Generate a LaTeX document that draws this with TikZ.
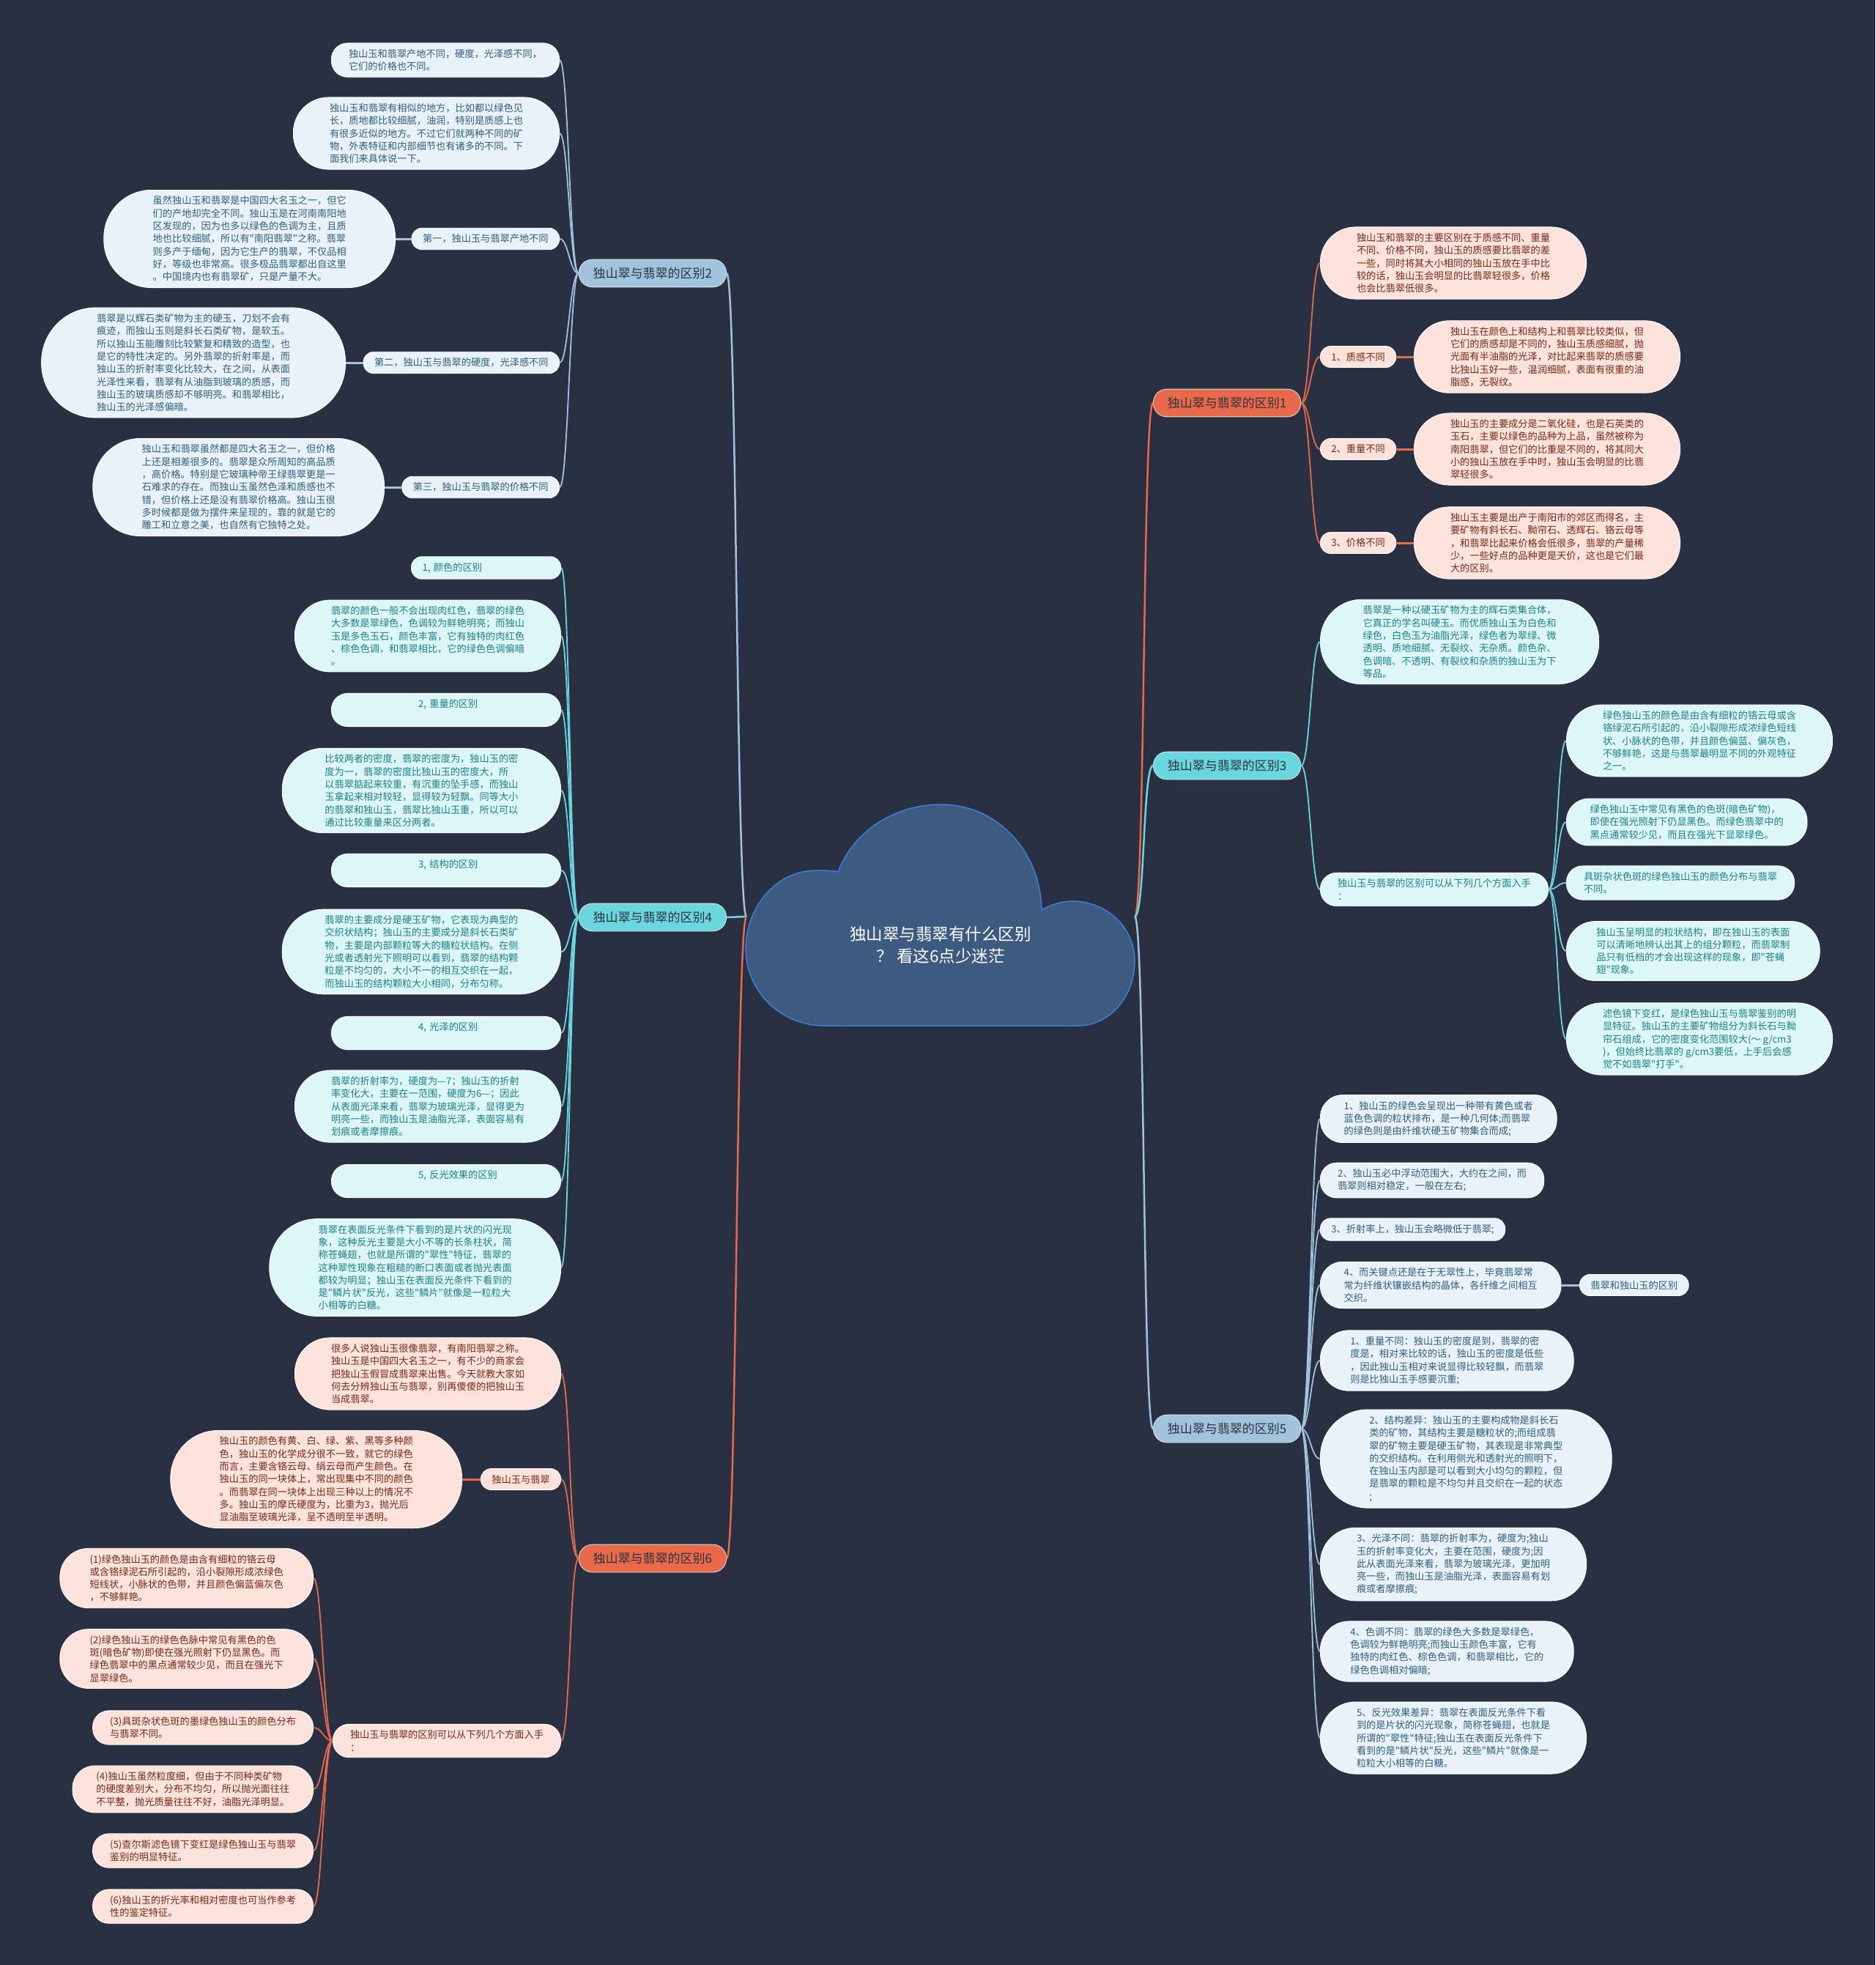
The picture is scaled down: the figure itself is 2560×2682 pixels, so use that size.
\documentclass[tikz,border=0pt]{standalone}
\usepackage{fontspec}
\newfontfamily\cjkfont{Noto Sans CJK SC}
\usepackage{tikz}
\usetikzlibrary{positioning}
\usepackage{xcolor}

\definecolor{bgnavy}{HTML}{283041}
\definecolor{cloudfill}{HTML}{3D5A80}
\definecolor{cloudedge}{HTML}{3C7FD9}
\definecolor{coral}{HTML}{E9694B}
\definecolor{aqua}{HTML}{6AD6DE}
\definecolor{steel}{HTML}{A2C3DC}
\definecolor{peachleaf}{HTML}{FDE3DB}
\definecolor{aqualeaf}{HTML}{DDF6F8}
\definecolor{steelleaf}{HTML}{EAF2F9}
\definecolor{rusttext}{HTML}{7A2818}
\definecolor{tealtext}{HTML}{1C8189}
\definecolor{steeltext}{HTML}{2E5E80}
\definecolor{branchtext}{HTML}{2B3340}

\newcommand{\leaffont}{\cjkfont\fontsize{13.2pt}{17.3pt}\selectfont}
\newcommand{\branchfont}{\cjkfont\fontsize{17pt}{20pt}\selectfont}
\newcommand{\titlefont}{\cjkfont\fontsize{22.5pt}{30pt}\selectfont}

\tikzset{
    leaf/.style={rectangle, draw=white, line width=0.8pt, align=left,
        inner ysep=8.4pt, font=\leaffont},
    leafR/.style={leaf, fill=peachleaf, text=rusttext},
    leafC/.style={leaf, fill=aqualeaf, text=tealtext},
    leafB/.style={leaf, fill=steelleaf, text=steeltext},
    lines1/.style={rounded corners=14pt, inner xsep=15pt},
    lines2/.style={rounded corners=22pt, inner xsep=23.6pt},
    lines3/.style={rounded corners=30.5pt, inner xsep=32.3pt},
    lines4/.style={rounded corners=39pt, inner xsep=40.9pt},
    lines5/.style={rounded corners=48pt, inner xsep=49.6pt},
    lines6/.style={rounded corners=56.5pt, inner xsep=58.2pt},
    lines7/.style={rounded corners=65pt, inner xsep=66.9pt},
    lines8/.style={rounded corners=74pt, inner xsep=75.5pt},
    branch/.style={rectangle, rounded corners=18.5pt, draw=white!80!gray, line width=0.8pt,
        inner xsep=19.5pt, inner ysep=11pt, font=\branchfont, text=branchtext},
    mainR/.style={draw=coral, line width=2.5pt},
    mainC/.style={draw=aqua, line width=2.5pt},
    mainB/.style={draw=steel, line width=2.5pt},
    lnR/.style={draw=coral, line width=1.8pt},
    lnC/.style={draw=aqua, line width=1.8pt},
    lnB/.style={draw=steel, line width=1.8pt},
}

\begin{document}
\begin{tikzpicture}[x=1pt, y=-1pt]
    % Background
    \fill[bgnavy] (0,0) rectangle (2560,2682);
    \useasboundingbox (0,0) rectangle (2560,2682);

    % Central cloud
    \filldraw[fill=cloudfill, draw=cloudedge, line width=1.5pt]
        (1125,1400) -- (1472,1400)
        .. controls (1515,1400) and (1549,1360) .. (1549,1312)
        .. controls (1549,1265) and (1510,1230) .. (1464,1230)
        .. controls (1448,1230) and (1434,1235) .. (1422,1242)
        .. controls (1420,1160) and (1360,1098) .. (1285,1098)
        .. controls (1220,1098) and (1165,1135) .. (1144,1190)
        .. controls (1134,1188) and (1124,1188) .. (1114,1188)
        .. controls (1058,1188) and (1018,1240) .. (1018,1295)
        .. controls (1018,1352) and (1065,1400) .. (1125,1400) -- cycle;
    \node[text=white, font=\titlefont, align=center] (title) at (1284,1290)
        {独山翠与翡翠有什么区别\\？ 看这6点少迷茫};
    \coordinate (rootL) at (1019,1251);
    \coordinate (rootR) at (1549,1251);

    % Main branches
    \node[branch, fill=steel, anchor=east] (b2) at (992,373) {独山翠与翡翠的区别2};
    \node[branch, fill=aqua, anchor=east] (b4) at (992,1252) {独山翠与翡翠的区别4};
    \node[branch, fill=coral, anchor=east] (b6) at (992,2127) {独山翠与翡翠的区别6};
    \node[branch, fill=coral, anchor=west] (b1) at (1574,550) {独山翠与翡翠的区别1};
    \node[branch, fill=aqua, anchor=west] (b3) at (1574,1045) {独山翠与翡翠的区别3};
    \node[branch, fill=steel, anchor=west] (b5) at (1574,1950) {独山翠与翡翠的区别5};

    % Branch 2
    \node[leafB, lines2, anchor=east] (b2a) at (764,82) {独山玉和翡翠产地不同，硬度，光泽感不同，\\它们的价格也不同。};
    \node[leafB, lines5, anchor=east] (b2b) at (764,182) {独山玉和翡翠有相似的地方，比如都以绿色见\\长，质地都比较细腻，油润，特别是质感上也\\有很多近似的地方。不过它们就两种不同的矿\\物，外表特征和内部细节也有诸多的不同。下\\面我们来具体说一下。};
    \node[leafB, lines1, anchor=east] (b2c) at (764,326) {第一，独山玉与翡翠产地不同};
    \node[leafB, lines7, anchor=east] (b2c1) at (540,326) {虽然独山玉和翡翠是中国四大名玉之一，但它\\们的产地却完全不同。独山玉是在河南南阳地\\区发现的，因为也多以绿色的色调为主，且质\\地也比较细腻，所以有"南阳翡翠"之称。翡翠\\则多产于缅甸，因为它生产的翡翠，不仅品相\\好，等级也非常高。很多极品翡翠都出自这里\\。中国境内也有翡翠矿，只是产量不大。};
    \node[leafB, lines1, anchor=east] (b2d) at (764,495) {第二，独山玉与翡翠的硬度，光泽感不同};
    \node[leafB, lines8, anchor=east] (b2d1) at (472,495) {翡翠是以辉石类矿物为主的硬玉，刀划不会有\\痕迹，而独山玉则是斜长石类矿物，是软玉。\\所以独山玉能雕刻比较繁复和精致的造型，也\\是它的特性决定的。另外翡翠的折射率是，而\\独山玉的折射率变化比较大，在之间，从表面\\光泽性来看，翡翠有从油脂到玻璃的质感，而\\独山玉的玻璃质感却不够明亮。和翡翠相比，\\独山玉的光泽感偏暗。};
    \node[leafB, lines1, anchor=east] (b2e) at (764,665) {第三，独山玉与翡翠的价格不同};
    \node[leafB, lines7, anchor=east] (b2e1) at (525,665) {独山玉和翡翠虽然都是四大名玉之一，但价格\\上还是相差很多的。翡翠是众所周知的高品质\\，高价格。特别是它玻璃种帝王绿翡翠更是一\\石难求的存在。而独山玉虽然色泽和质感也不\\错，但价格上还是没有翡翠价格高。独山玉很\\多时候都是做为摆件来呈现的，靠的就是它的\\雕工和立意之美，也自然有它独特之处。};

    % Branch 4
    \node[leafC, lines1, anchor=east, text width=174pt] (b4a) at (766,775) {1, 颜色的区别};
    \node[leafC, lines5, anchor=east] (b4b) at (766,868) {翡翠的颜色一般不会出现肉红色，翡翠的绿色\\大多数是翠绿色，色调较为鲜艳明亮；而独山\\玉是多色玉石，颜色丰富，它有独特的肉红色\\、棕色色调，和翡翠相比，它的绿色色调偏暗\\。};
    \node[leafC, lines2, anchor=east, text width=266pt] (b4c) at (766,969) {\hspace*{95pt}2, 重量的区别\\\mbox{}};
    \node[leafC, lines6, anchor=east] (b4d) at (766,1079) {比较两者的密度，翡翠的密度为，独山玉的密\\度为一，翡翠的密度比独山玉的密度大，所\\以翡翠掂起来较重，有沉重的坠手感，而独山\\玉拿起来相对较轻，显得较为轻飘。同等大小\\的翡翠和独山玉，翡翠比独山玉重，所以可以\\通过比较重量来区分两者。};
    \node[leafC, lines2, anchor=east, text width=266pt] (b4e) at (766,1188) {\hspace*{95pt}3, 结构的区别\\\mbox{}};
    \node[leafC, lines6, anchor=east] (b4f) at (766,1299) {翡翠的主要成分是硬玉矿物，它表现为典型的\\交织状结构；独山玉的主要成分是斜长石类矿\\物，主要是内部颗粒等大的糖粒状结构。在侧\\光或者透射光下照明可以看到，翡翠的结构颗\\粒是不均匀的，大小不一的相互交织在一起，\\而独山玉的结构颗粒大小相同，分布匀称。};
    \node[leafC, lines2, anchor=east, text width=266pt] (b4g) at (766,1410) {\hspace*{95pt}4, 光泽的区别\\\mbox{}};
    \node[leafC, lines5, anchor=east] (b4h) at (766,1510) {翡翠的折射率为，硬度为—7；独山玉的折射\\率变化大，主要在一范围，硬度为6—；因此\\从表面光泽来看，翡翠为玻璃光泽，显得更为\\明亮一些，而独山玉是油脂光泽，表面容易有\\划痕或者摩擦痕。};
    \node[leafC, lines2, anchor=east, text width=266pt] (b4i) at (766,1612) {\hspace*{95pt}5, 反光效果的区别\\\mbox{}};
    \node[leafC, lines7, anchor=east] (b4j) at (766,1730) {翡翠在表面反光条件下看到的是片状的闪光现\\象，这种反光主要是大小不等的长条柱状，简\\称苍蝇翅，也就是所谓的"翠性"特征，翡翠的\\这种翠性现象在粗糙的断口表面或者抛光表面\\都较为明显；独山玉在表面反光条件下看到的\\是"鳞片状"反光，这些"鳞片"就像是一粒粒大\\小相等的白糖。};

    % Branch 6
    \node[leafR, lines5, anchor=east] (b6a) at (766,1875) {很多人说独山玉很像翡翠，有南阳翡翠之称。\\独山玉是中国四大名玉之一，有不少的商家会\\把独山玉假冒成翡翠来出售。今天就教大家如\\何去分辨独山玉与翡翠，别再傻傻的把独山玉\\当成翡翠。};
    \node[leafR, lines1, anchor=east] (b6b) at (766,2019) {独山玉与翡翠};
    \node[leafR, lines7, anchor=east] (b6b1) at (631,2019) {独山玉的颜色有黄、白、绿、紫、黑等多种颜\\色，独山玉的化学成分很不一致，就它的绿色\\而言，主要含铬云母、绢云母而产生颜色。在\\独山玉的同一块体上，常出现集中不同的颜色\\。而翡翠在同一块体上出现三种以上的情况不\\多。独山玉的摩氏硬度为，比重为3，抛光后\\显油脂至玻璃光泽，呈不透明至半透明。};
    \node[leafR, lines2, anchor=east] (b6c) at (766,2376) {独山玉与翡翠的区别可以从下列几个方面入手\\：};
    \node[leafR, lines4, anchor=east] (b6c1) at (428,2154) {(1)绿色独山玉的颜色是由含有细粒的铬云母\\或含铬绿泥石所引起的，沿小裂隙形成浓绿色\\短线状，小脉状的色带，并且颜色偏蓝偏灰色\\，不够鲜艳。};
    \node[leafR, lines4, anchor=east] (b6c2) at (428,2264) {(2)绿色独山玉的绿色色脉中常见有黑色的色\\斑(暗色矿物)即使在强光照射下仍显黑色。而\\绿色翡翠中的黑点通常较少见，而且在强光下\\显翠绿色。};
    \node[leafR, lines2, anchor=east] (b6c3) at (428,2358) {(3)具斑杂状色斑的墨绿色独山玉的颜色分布\\与翡翠不同。};
    \node[leafR, lines3, anchor=east] (b6c4) at (428,2442) {(4)独山玉虽然粒度细，但由于不同种类矿物\\的硬度差别大，分布不均匀，所以抛光面往往\\不平整，抛光质量往往不好，油脂光泽明显。};
    \node[leafR, lines2, anchor=east] (b6c5) at (428,2526) {(5)查尔斯滤色镜下变红是绿色独山玉与翡翠\\鉴别的明显特征。};
    \node[leafR, lines2, anchor=east] (b6c6) at (428,2602) {(6)独山玉的折光率和相对密度也可当作参考\\性的鉴定特征。};

    % Branch 1
    \node[leafR, lines5, anchor=west] (b1a) at (1802,359) {独山玉和翡翠的主要区别在于质感不同、重量\\不同、价格不同，独山玉的质感要比翡翠的差\\一些，同时将其大小相同的独山玉放在手中比\\较的话，独山玉会明显的比翡翠轻很多，价格\\也会比翡翠低很多。};
    \node[leafR, lines1, anchor=west] (b1b) at (1802,487) {1、质感不同};
    \node[leafR, lines5, anchor=west] (b1b1) at (1930,487) {独山玉在颜色上和结构上和翡翠比较类似，但\\它们的质感却是不同的，独山玉质感细腻，抛\\光面有半油脂的光泽，对比起来翡翠的质感要\\比独山玉好一些，温润细腻，表面有很重的油\\脂感，无裂纹。};
    \node[leafR, lines1, anchor=west] (b1c) at (1802,613) {2、重量不同};
    \node[leafR, lines5, anchor=west] (b1c1) at (1930,613) {独山玉的主要成分是二氧化硅，也是石英类的\\玉石，主要以绿色的品种为上品，虽然被称为\\南阳翡翠，但它们的比重是不同的，将其同大\\小的独山玉放在手中时，独山玉会明显的比翡\\翠轻很多。};
    \node[leafR, lines1, anchor=west] (b1d) at (1802,741) {3、价格不同};
    \node[leafR, lines5, anchor=west] (b1d1) at (1930,741) {独山玉主要是出产于南阳市的郊区而得名，主\\要矿物有斜长石、黝帘石、透辉石、铬云母等\\，和翡翠比起来价格会低很多，翡翠的产量稀\\少，一些好点的品种更是天价，这也是它们最\\大的区别。};

    % Branch 3
    \node[leafC, lines6, anchor=west] (b3a) at (1802,876) {翡翠是一种以硬玉矿物为主的辉石类集合体，\\它真正的学名叫硬玉。而优质独山玉为白色和\\绿色，白色玉为油脂光泽，绿色者为翠绿、微\\透明、质地细腻、无裂纹、无杂质。颜色杂、\\色调暗、不透明、有裂纹和杂质的独山玉为下\\等品。};
    \node[leafC, lines2, anchor=west] (b3b) at (1802,1214) {独山玉与翡翠的区别可以从下列几个方面入手\\：};
    \node[leafC, lines5, anchor=west] (b3b1) at (2138,1011) {绿色独山玉的颜色是由含有细粒的铬云母或含\\铬绿泥石所引起的，沿小裂隙形成浓绿色短线\\状、小脉状的色带，并且颜色偏蓝、偏灰色，\\不够鲜艳，这是与翡翠最明显不同的外观特征\\之一。};
    \node[leafC, lines3, anchor=west] (b3b2) at (2138,1122) {绿色独山玉中常见有黑色的色斑(暗色矿物)，\\即使在强光照射下仍显黑色。而绿色翡翠中的\\黑点通常较少见，而且在强光下显翠绿色。};
    \node[leafC, lines2, anchor=west] (b3b3) at (2138,1205) {具斑杂状色斑的绿色独山玉的颜色分布与翡翠\\不同。};
    \node[leafC, lines4, anchor=west] (b3b4) at (2138,1298) {独山玉呈明显的粒状结构，即在独山玉的表面\\可以清晰地辨认出其上的组分颗粒，而翡翠制\\品只有低档的才会出现这样的现象，即"苍蝇\\翅"现象。};
    \node[leafC, lines5, anchor=west] (b3b5) at (2138,1418) {滤色镜下变红，是绿色独山玉与翡翠鉴别的明\\显特征。独山玉的主要矿物组分为斜长石与黝\\帘石组成，它的密度变化范围较大(～ g/cm3\\)，但始终比翡翠的 g/cm3要低，上手后会感\\觉不如翡翠"打手"。};

    % Branch 5
    \node[leafB, lines3, anchor=west] (b5a) at (1802,1527) {1、独山玉的绿色会呈现出一种带有黄色或者\\蓝色色调的粒状排布，是一种几何体;而翡翠\\的绿色则是由纤维状硬玉矿物集合而成;};
    \node[leafB, lines2, anchor=west] (b5b) at (1802,1611) {2、独山玉必中浮动范围大，大约在之间，而\\翡翠则相对稳定，一般在左右;};
    \node[leafB, lines1, anchor=west] (b5c) at (1802,1678) {3、折射率上，独山玉会略微低于翡翠;};
    \node[leafB, lines3, anchor=west] (b5d) at (1802,1754) {4、而关键点还是在于无翠性上，毕竟翡翠常\\常为纤维状镶嵌结构的晶体，各纤维之间相互\\交织。};
    \node[leafB, lines1, anchor=west] (b5d1) at (2156,1754) {翡翠和独山玉的区别};
    \node[leafB, lines4, anchor=west] (b5e) at (1802,1857) {1、重量不同：独山玉的密度是到，翡翠的密\\度是，相对来比较的话，独山玉的密度是低些\\，因此独山玉相对来说显得比较轻飘，而翡翠\\则是比独山玉手感要沉重;};
    \node[leafB, lines7, anchor=west] (b5f) at (1802,1991) {2、结构差异：独山玉的主要构成物是斜长石\\类的矿物，其结构主要是糖粒状的;而组成翡\\翠的矿物主要是硬玉矿物，其表现是非常典型\\的交织结构。在利用侧光和透射光的照明下，\\在独山玉内部是可以看到大小均匀的颗粒，但\\是翡翠的颗粒是不均匀并且交织在一起的状态\\;};
    \node[leafB, lines5, anchor=west] (b5g) at (1802,2135) {3、光泽不同：翡翠的折射率为，硬度为;独山\\玉的折射率变化大，主要在范围，硬度为;因\\此从表面光泽来看，翡翠为玻璃光泽，更加明\\亮一些，而独山玉是油脂光泽，表面容易有划\\痕或者摩擦痕;};
    \node[leafB, lines4, anchor=west] (b5h) at (1802,2254) {4、色调不同：翡翠的绿色大多数是翠绿色，\\色调较为鲜艳明亮;而独山玉颜色丰富，它有\\独特的肉红色、棕色色调，和翡翠相比，它的\\绿色色调相对偏暗;};
    \node[leafB, lines5, anchor=west] (b5i) at (1802,2372) {5、反光效果差异：翡翠在表面反光条件下看\\到的是片状的闪光现象，简称苍蝇翅，也就是\\所谓的"翠性"特征;独山玉在表面反光条件下\\看到的是"鳞片状"反光，这些"鳞片"就像是一\\粒粒大小相等的白糖。};

    % Root connectors
    \draw[mainB] (rootL) .. controls +(-14,0) and +(14,0) .. (b2.east);
    \draw[mainC] (rootL) .. controls +(-14,0) and +(14,0) .. (b4.east);
    \draw[mainR] (rootL) .. controls +(-14,0) and +(14,0) .. (b6.east);
    \draw[mainR] (rootR) .. controls +(14,0) and +(-14,0) .. (b1.west);
    \draw[mainC] (rootR) .. controls +(14,0) and +(-14,0) .. (b3.west);
    \draw[mainB] (rootR) .. controls +(14,0) and +(-14,0) .. (b5.west);

    % Branch 2 connectors
    \draw[lnB] (b2.west) .. controls +(-12,0) and +(12,0) .. (b2a.east);
    \draw[lnB] (b2.west) .. controls +(-12,0) and +(12,0) .. (b2b.east);
    \draw[lnB] (b2.west) .. controls +(-12,0) and +(12,0) .. (b2c.east);
    \draw[lnB] (b2.west) .. controls +(-12,0) and +(12,0) .. (b2d.east);
    \draw[lnB] (b2.west) .. controls +(-12,0) and +(12,0) .. (b2e.east);
    \draw[lnB, line width=3pt] (b2c.west) -- (b2c1.east);
    \draw[lnB, line width=3pt] (b2d.west) -- (b2d1.east);
    \draw[lnB, line width=3pt] (b2e.west) -- (b2e1.east);

    % Branch 4 connectors
    \draw[lnC] (b4.west) .. controls +(-12,0) and +(12,0) .. (b4a.east);
    \draw[lnC] (b4.west) .. controls +(-12,0) and +(12,0) .. (b4b.east);
    \draw[lnC] (b4.west) .. controls +(-12,0) and +(12,0) .. (b4c.east);
    \draw[lnC] (b4.west) .. controls +(-12,0) and +(12,0) .. (b4d.east);
    \draw[lnC] (b4.west) .. controls +(-12,0) and +(12,0) .. (b4e.east);
    \draw[lnC] (b4.west) .. controls +(-12,0) and +(12,0) .. (b4f.east);
    \draw[lnC] (b4.west) .. controls +(-12,0) and +(12,0) .. (b4g.east);
    \draw[lnC] (b4.west) .. controls +(-12,0) and +(12,0) .. (b4h.east);
    \draw[lnC] (b4.west) .. controls +(-12,0) and +(12,0) .. (b4i.east);
    \draw[lnC] (b4.west) .. controls +(-12,0) and +(12,0) .. (b4j.east);

    % Branch 6 connectors
    \draw[lnR] (b6.west) .. controls +(-12,0) and +(12,0) .. (b6a.east);
    \draw[lnR] (b6.west) .. controls +(-12,0) and +(12,0) .. (b6b.east);
    \draw[lnR] (b6.west) .. controls +(-12,0) and +(12,0) .. (b6c.east);
    \draw[lnR, line width=3pt] (b6b.west) -- (b6b1.east);
    \draw[lnR] (b6c.west) .. controls +(-12,0) and +(12,0) .. (b6c1.east);
    \draw[lnR] (b6c.west) .. controls +(-12,0) and +(12,0) .. (b6c2.east);
    \draw[lnR] (b6c.west) .. controls +(-12,0) and +(12,0) .. (b6c3.east);
    \draw[lnR] (b6c.west) .. controls +(-12,0) and +(12,0) .. (b6c4.east);
    \draw[lnR] (b6c.west) .. controls +(-12,0) and +(12,0) .. (b6c5.east);
    \draw[lnR] (b6c.west) .. controls +(-12,0) and +(12,0) .. (b6c6.east);

    % Branch 1 connectors
    \draw[lnR] (b1.east) .. controls +(12,0) and +(-12,0) .. (b1a.west);
    \draw[lnR] (b1.east) .. controls +(12,0) and +(-12,0) .. (b1b.west);
    \draw[lnR] (b1.east) .. controls +(12,0) and +(-12,0) .. (b1c.west);
    \draw[lnR] (b1.east) .. controls +(12,0) and +(-12,0) .. (b1d.west);
    \draw[lnR, line width=3pt] (b1b.east) -- (b1b1.west);
    \draw[lnR, line width=3pt] (b1c.east) -- (b1c1.west);
    \draw[lnR, line width=3pt] (b1d.east) -- (b1d1.west);

    % Branch 3 connectors
    \draw[lnC] (b3.east) .. controls +(12,0) and +(-12,0) .. (b3a.west);
    \draw[lnC] (b3.east) .. controls +(12,0) and +(-12,0) .. (b3b.west);
    \draw[lnC] (b3b.east) .. controls +(12,0) and +(-12,0) .. (b3b1.west);
    \draw[lnC] (b3b.east) .. controls +(12,0) and +(-12,0) .. (b3b2.west);
    \draw[lnC] (b3b.east) .. controls +(12,0) and +(-12,0) .. (b3b3.west);
    \draw[lnC] (b3b.east) .. controls +(12,0) and +(-12,0) .. (b3b4.west);
    \draw[lnC] (b3b.east) .. controls +(12,0) and +(-12,0) .. (b3b5.west);

    % Branch 5 connectors
    \draw[lnB] (b5.east) .. controls +(12,0) and +(-12,0) .. (b5a.west);
    \draw[lnB] (b5.east) .. controls +(12,0) and +(-12,0) .. (b5b.west);
    \draw[lnB] (b5.east) .. controls +(12,0) and +(-12,0) .. (b5c.west);
    \draw[lnB] (b5.east) .. controls +(12,0) and +(-12,0) .. (b5d.west);
    \draw[lnB] (b5.east) .. controls +(12,0) and +(-12,0) .. (b5e.west);
    \draw[lnB] (b5.east) .. controls +(12,0) and +(-12,0) .. (b5f.west);
    \draw[lnB] (b5.east) .. controls +(12,0) and +(-12,0) .. (b5g.west);
    \draw[lnB] (b5.east) .. controls +(12,0) and +(-12,0) .. (b5h.west);
    \draw[lnB] (b5.east) .. controls +(12,0) and +(-12,0) .. (b5i.west);
    \draw[lnB, line width=3pt] (b5d.east) -- (b5d1.west);

\end{tikzpicture}
\end{document}
